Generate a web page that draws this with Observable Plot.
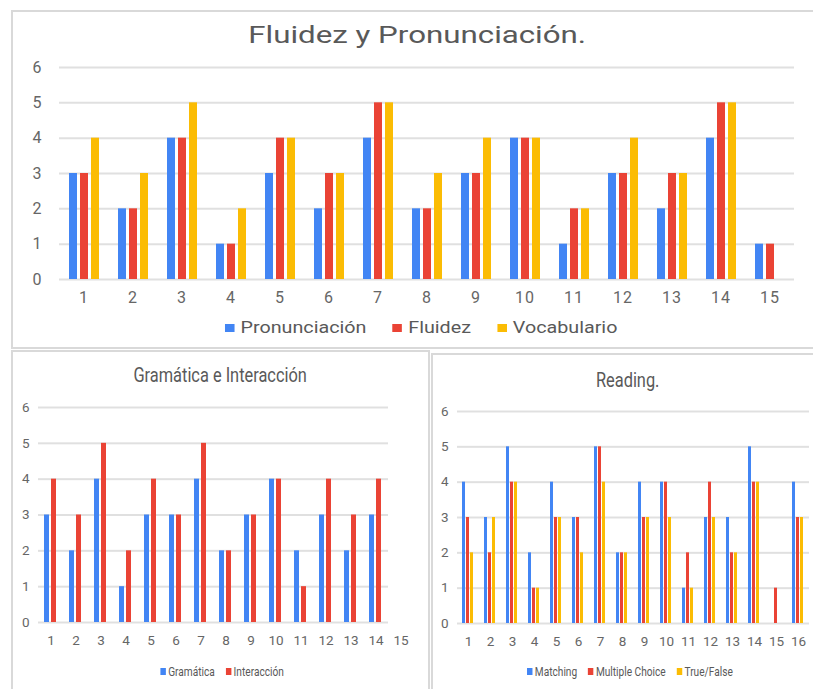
<!DOCTYPE html>
<html>
<head>
<meta charset="utf-8">
<script src="https://cdn.jsdelivr.net/npm/d3@7"></script>
<script src="https://cdn.jsdelivr.net/npm/@observablehq/plot@0.6"></script>
<style>
  html, body { margin: 0; padding: 0; background: #fff; }
  #page { position: relative; width: 813px; height: 689px; overflow: hidden; background: #fff; font-family: Roboto, "Liberation Sans", sans-serif; }
  .panel { position: absolute; box-sizing: border-box; border: 2px solid #d9d9d9; background: #fff; }
  .title { position: absolute; text-align: center; white-space: nowrap; color: #595959; }
  .title span { display: inline-block; }
  .legend { position: absolute; text-align: center; white-space: nowrap; color: #595959; }
  .legend .inner { display: inline-flex; align-items: center; }
  .legend .item { display: inline-flex; align-items: center; }
  .legend .sw { display: inline-block; }
  .chart { position: absolute; }
</style>
</head>
<body>
<div id="page"></div>
<script>
// ---------- data ----------
const yTicks = [0, 1, 2, 3, 4, 5, 6];

// Chart 1: Fluidez y Pronunciación.
const title1 = "Fluidez y Pronunciación.";
const cats1 = [1, 2, 3, 4, 5, 6, 7, 8, 9, 10, 11, 12, 13, 14, 15];
const series1 = ["Pronunciación", "Fluidez", "Vocabulario"];
const pronunciacion = [3, 2, 4, 1, 3, 2, 4, 2, 3, 4, 1, 3, 2, 4, 1];
const fluidez       = [3, 2, 4, 1, 4, 3, 5, 2, 3, 4, 2, 3, 3, 5, 1];
const vocabulario   = [4, 3, 5, 2, 4, 3, 5, 3, 4, 4, 2, 4, 3, 5, null];

// Chart 2: Gramática e Interacción
const title2 = "Gramática e Interacción";
const cats2 = [1, 2, 3, 4, 5, 6, 7, 8, 9, 10, 11, 12, 13, 14, 15];
const series2 = ["Gramática", "Interacción"];
const gramatica   = [3, 2, 4, 1, 3, 3, 4, 2, 3, 4, 2, 3, 2, 3, null];
const interaccion = [4, 3, 5, 2, 4, 3, 5, 2, 3, 4, 1, 4, 3, 4, null];

// Chart 3: Reading.
const title3 = "Reading.";
const cats3 = [1, 2, 3, 4, 5, 6, 7, 8, 9, 10, 11, 12, 13, 14, 15, 16];
const series3 = ["Matching", "Multiple Choice", "True/False"];
const matching       = [4, 3, 5, 2, 4, 3, 5, 2, 4, 4, 1, 3, 3, 5, null, 4];
const multipleChoice = [3, 2, 4, 1, 3, 3, 5, 2, 3, 4, 2, 4, 2, 4, 1, 3];
const trueFalse      = [2, 3, 4, 1, 3, 2, 4, 2, 3, 3, 1, 3, 2, 4, null, 3];

const colors3 = ["#4285F4", "#EA4335", "#FBBC04"];
const colors2 = ["#4285F4", "#EA4335"];

// ---------- helpers ----------
const page = document.getElementById("page");

function addPanel(l, t, w, h) {
  const d = document.createElement("div");
  d.className = "panel";
  Object.assign(d.style, {left: l + "px", top: t + "px", width: w + "px", height: h + "px"});
  page.appendChild(d);
}

function addTitle(text, cx, cy, fs, k) {
  const d = document.createElement("div");
  d.className = "title";
  Object.assign(d.style, {left: (cx - 300) + "px", width: "600px", top: (cy - fs / 2) + "px",
    fontSize: fs + "px", lineHeight: fs + "px"});
  const s = document.createElement("span");
  s.textContent = text;
  s.style.transform = `scaleX(${k})`;
  d.appendChild(s);
  page.appendChild(d);
}

function addLegend(names, cols, cx, cy, fs, k, sq, gapIn, gapOut) {
  const d = document.createElement("div");
  d.className = "legend";
  Object.assign(d.style, {left: (cx - 300) + "px", width: "600px", top: (cy - fs / 2) + "px",
    fontSize: fs + "px", lineHeight: fs + "px"});
  const inner = document.createElement("div");
  inner.className = "inner";
  inner.style.transform = `scaleX(${k})`;
  names.forEach((n, i) => {
    const it = document.createElement("span");
    it.className = "item";
    if (i > 0) it.style.marginLeft = gapOut + "px";
    const sw = document.createElement("span");
    sw.className = "sw";
    Object.assign(sw.style, {width: sq + "px", height: sq + "px", background: cols[i], marginRight: gapIn + "px"});
    const tx = document.createElement("span");
    tx.textContent = n;
    it.appendChild(sw); it.appendChild(tx);
    inner.appendChild(it);
  });
  d.appendChild(inner);
  page.appendChild(d);
}

function addChart(cfg) {
  const rows = [];
  cfg.cats.forEach((c, i) => cfg.names.forEach((s, j) => {
    const v = cfg.values[j][i];
    if (v != null) rows.push({cat: c, series: s, value: v});
  }));
  const svg = Plot.plot({
    width: cfg.width,
    height: cfg.height,
    marginLeft: cfg.mL, marginRight: cfg.mR, marginTop: cfg.mT, marginBottom: cfg.mB,
    style: {fontFamily: "Roboto, sans-serif", fontSize: cfg.fs + "px", color: "#666",
      letterSpacing: cfg.ls + "px", background: "transparent", overflow: "visible"},
    facet: {data: rows, x: "cat"},
    fx: {domain: cfg.cats, padding: 0, axis: "bottom", tickSize: 0, tickPadding: cfg.padX, label: null},
    x: {domain: cfg.names, paddingInner: cfg.pi, paddingOuter: cfg.po, axis: null},
    y: {domain: [0, 6], ticks: yTicks, tickFormat: d => String(d), tickSize: 0, tickPadding: cfg.padY, label: null},
    color: {domain: cfg.names, range: cfg.colors},
    marks: [
      Plot.ruleY(yTicks, {stroke: "#e0e0e0", strokeWidth: 2}),
      Plot.barY(rows, {x: "series", y: "value", fill: "series"})
    ]
  });
  svg.classList.add("chart");
  svg.style.left = cfg.left + "px";
  svg.style.top = cfg.top + "px";
  page.appendChild(svg);
}

// ---------- panels ----------
addPanel(11, 10, 830, 339);
addPanel(11, 350, 419, 360);
addPanel(431, 353, 400, 360);

// ---------- chart 1 ----------
addTitle(title1, 417, 35, 23, 1.36);
addChart({
  cats: cats1, names: series1, values: [pronunciacion, fluidez, vocabulario], colors: colors3,
  left: 0, top: 0, width: 813, height: 310, mL: 55, mR: 15, mT: 67, mB: 31,
  fs: 16, ls: 1, padX: 12, padY: 17, pi: 0.29, po: 0.835
});
addLegend(series1, colors3, 421, 327, 16.5, 1.195, 8, 5, 22);

// ---------- chart 2 ----------
addTitle(title2, 220, 375, 21, 0.78);
addChart({
  cats: cats2, names: series2, values: [gramatica, interaccion], colors: colors2,
  left: 0, top: 380, width: 430, height: 280, mL: 33, mR: 13, mT: 27, mB: 38,
  fs: 13.5, ls: 0, padX: 13, padY: 9, pi: 0.22, po: 0.86
});
addLegend(series2, colors2, 222, 670, 13, 0.78, 7, 3, 14);

// ---------- chart 3 ----------
addTitle(title3, 628, 380, 21, 0.78);
addChart({
  cats: cats3, names: series3, values: [matching, multipleChoice, trueFalse], colors: colors3,
  left: 430, top: 380, width: 384, height: 280, mL: 22, mR: 0, mT: 31, mB: 37,
  fs: 13.5, ls: 0, padX: 13, padY: 9, pi: 0.17, po: 0.94
});
addLegend(series3, colors3, 630, 670, 13, 0.78, 7, 3, 14);
</script>
</body>
</html>
